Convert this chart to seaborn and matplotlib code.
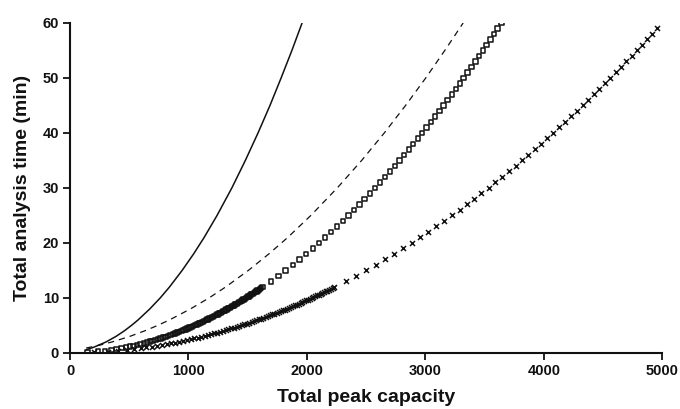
import numpy as np
import pandas as pd
import seaborn as sns
import matplotlib.pyplot as plt

# ---- data: capacity vs time (min) ----
# solid line
solid_time = [0.6, 1, 2, 3, 4, 5, 6, 8, 10, 12, 15, 18, 21, 25, 30, 35, 40, 45, 50, 55, 60]
solid_cap = [137, 195, 304, 387, 457, 518, 574, 673, 761, 840, 946, 1043, 1132, 1241,
             1366, 1480, 1587, 1688, 1782, 1873, 1959]

# dashed line
dash_time = [0.9, 1, 1.5, 2, 3, 4, 5, 6, 8, 10, 12, 15, 18, 21, 25, 30, 35, 40, 45, 50, 55, 60]
dash_cap = [136, 160, 265, 354, 503, 628, 739, 839, 1016, 1173, 1314, 1505, 1678, 1838,
            2033, 2256, 2462, 2653, 2833, 3003, 3164, 3319]

# time grid of the dense marker runs (0.1 - 12 min) and sparse runs (13 - 60 min)
dense_time = [0.10, 0.25, 0.40, 0.55, 0.70, 0.85, 1.00, 1.15, 1.30, 1.45, 1.60, 1.75,
              1.90, 2.05, 2.20, 2.35, 2.50, 2.65, 2.80, 2.95, 3.10, 3.25, 3.40, 3.55,
              3.70, 3.85, 4.00, 4.15, 4.30, 4.45, 4.60, 4.75, 4.90, 5.05, 5.20, 5.35,
              5.50, 5.65, 5.80, 5.95, 6.10, 6.25, 6.40, 6.55, 6.70, 6.85, 7.00, 7.15,
              7.30, 7.45, 7.60, 7.75, 7.90, 8.05, 8.20, 8.35, 8.50, 8.65, 8.80, 8.95,
              9.10, 9.25, 9.40, 9.55, 9.70, 9.85, 10.00, 10.15, 10.30, 10.45, 10.60,
              10.75, 10.90, 11.05, 11.20, 11.35, 11.50, 11.65, 11.80, 11.95]
sparse_time = [13, 14, 15, 16, 17, 18, 19, 20, 21, 22, 23, 24, 25, 26, 27, 28, 29, 30,
               31, 32, 33, 34, 35, 36, 37, 38, 39, 40, 41, 42, 43, 44, 45, 46, 47, 48,
               49, 50, 51, 52, 53, 54, 55, 56, 57, 58, 59, 60]

# open squares
sq_dense_cap = [149, 235, 297, 349, 393, 433, 470, 504, 536, 566, 595, 622, 648, 673,
                697, 721, 743, 765, 786, 807, 828, 847, 867, 886, 904, 922, 940, 957,
                975, 991, 1008, 1024, 1040, 1056, 1072, 1087, 1102, 1117, 1132, 1146,
                1161, 1175, 1189, 1203, 1217, 1230, 1244, 1257, 1270, 1283, 1296, 1308,
                1321, 1334, 1346, 1358, 1370, 1382, 1394, 1406, 1418, 1429, 1441, 1452,
                1464, 1475, 1486, 1497, 1508, 1519, 1530, 1541, 1552, 1562, 1573, 1583,
                1594, 1604, 1614, 1625]
sq_sparse_cap = [1695, 1759, 1820, 1880, 1938, 1994, 2049, 2102, 2154, 2204, 2254, 2303,
                 2350, 2397, 2442, 2487, 2531, 2574, 2617, 2659, 2700, 2741, 2781, 2820,
                 2859, 2897, 2935, 2973, 3009, 3046, 3082, 3118, 3153, 3188, 3222, 3256,
                 3290, 3323, 3356, 3389, 3422, 3454, 3486, 3517, 3548, 3579, 3610, 3641]

# crosses
x_dense_cap = [204, 323, 408, 478, 540, 595, 645, 692, 735, 777, 816, 853, 889, 924,
               957, 989, 1020, 1050, 1079, 1108, 1136, 1163, 1189, 1215, 1241, 1266,
               1290, 1314, 1337, 1361, 1383, 1406, 1428, 1449, 1471, 1492, 1513, 1533,
               1553, 1573, 1593, 1613, 1632, 1651, 1670, 1688, 1707, 1725, 1743, 1761,
               1778, 1796, 1813, 1830, 1847, 1864, 1881, 1897, 1913, 1930, 1946, 1962,
               1978, 1993, 2009, 2024, 2040, 2055, 2070, 2085, 2100, 2115, 2129, 2144,
               2159, 2173, 2187, 2201, 2216, 2230]
x_sparse_cap = [2326, 2413, 2498, 2580, 2659, 2736, 2812, 2885, 2956, 3025, 3093, 3160,
                3225, 3289, 3352, 3413, 3473, 3533, 3591, 3649, 3705, 3761, 3816, 3870,
                3923, 3976, 4028, 4079, 4130, 4180, 4230, 4278, 4327, 4375, 4422, 4469,
                4515, 4561, 4606, 4651, 4696, 4740, 4783, 4827, 4870, 4912, 4954]
x_sparse_time = sparse_time[:len(x_sparse_cap)]

# ---- style ----
sns.set_style("ticks")
plt.rcParams["font.family"] = ["Liberation Sans", "DejaVu Sans"]
plt.rcParams["font.weight"] = "bold"

ink = "#111111"

fig = plt.figure(figsize=(6.8, 4.09), dpi=100)
ax = fig.add_axes([0.103, 0.137, 0.871, 0.807])

sns.lineplot(x=solid_cap, y=solid_time, sort=False, estimator=None,
             color=ink, linewidth=1.1, ax=ax)
sns.lineplot(x=dash_cap, y=dash_time, sort=False, estimator=None,
             color=ink, linewidth=0.9, linestyle=(0, (5, 4)), ax=ax)

sq_cap = sq_dense_cap + sq_sparse_cap
sq_time = dense_time + sparse_time
sns.scatterplot(x=sq_cap, y=sq_time, marker="s", s=10, facecolors="none",
                edgecolor=ink, linewidth=1.1, ax=ax)

x_cap = x_dense_cap + x_sparse_cap
x_time = dense_time + x_sparse_time
sns.scatterplot(x=x_cap, y=x_time, marker="x", s=13, color=ink,
                linewidth=1.1, ax=ax)

ax.set_xlim(0, 5000)
ax.set_ylim(0, 60)
ax.set_xticks(np.arange(0, 5001, 1000))
ax.set_yticks(np.arange(0, 61, 10))
ax.tick_params(direction="out", length=5, width=1.3, labelsize=10.5, pad=3, colors=ink)
for lab in ax.get_xticklabels() + ax.get_yticklabels():
    lab.set_fontweight("bold")
ax.set_xlabel("Total peak capacity", fontsize=14, fontweight="bold", labelpad=8, color=ink)
ax.set_ylabel("Total analysis time (min)", fontsize=14, fontweight="bold", labelpad=8, color=ink)

sns.despine(ax=ax)
for side in ["left", "bottom"]:
    ax.spines[side].set_linewidth(1.5)
    ax.spines[side].set_color(ink)
ax.grid(False)

fig.savefig("out.png", dpi=100)
